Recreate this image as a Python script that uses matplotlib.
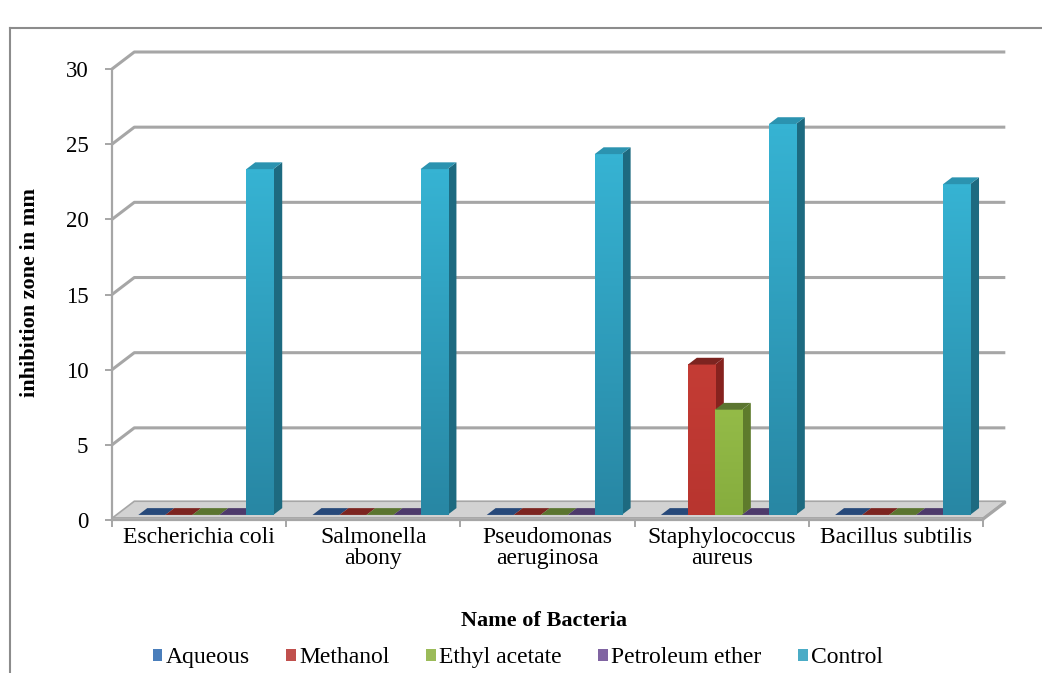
import numpy as np
import matplotlib
matplotlib.use("Agg")
import matplotlib.pyplot as plt
from matplotlib.patches import Polygon, Patch
from matplotlib.lines import Line2D
from matplotlib.colors import LinearSegmentedColormap

plt.rcParams['font.family'] = ['Liberation Serif', 'DejaVu Serif']

# data
categories = ["Escherichia coli", "Salmonella\nabony", "Pseudomonas\naeruginosa",
              "Staphylococcus\naureus", "Bacillus subtilis"]
series_names = ["Aqueous", "Methanol", "Ethyl acetate", "Petroleum ether", "Control"]
aqueous = [0, 0, 0, 0, 0]
methanol = [0, 0, 0, 10, 0]
ethyl_acetate = [0, 0, 0, 7, 0]
petroleum_ether = [0, 0, 0, 0, 0]
control = [23, 23, 24, 26, 22]
series = [aqueous, methanol, ethyl_acetate, petroleum_ether, control]

# colours: front top, front bottom, side, top, legend
colors = [
    ("#4f81bd", "#3d6aa0", "#1d3c63", "#27497a", "#4a7ebb"),
    ("#c43c35", "#b8352f", "#86221e", "#7c2420", "#c0504d"),
    ("#94bb48", "#86ad3e", "#5e7b2c", "#5b7530", "#9bbb59"),
    ("#8064a2", "#6d5590", "#3f2f58", "#4d3a6b", "#8064a2"),
    ("#36b3d3", "#2887a4", "#1d6a80", "#2b93b0", "#4bacc6"),
]

# 3d look
DX, DY = 0.128, 1.13      # full depth in data units
F0, F1 = 0.3, 0.7         # bar front / back depth fraction
W = 0.155
START = (1 - 5 * W) / 2
FLOOR = 0.12


def face(ax, pts, color, z, ec="none", lw=0):
    ax.add_patch(Polygon(pts, closed=True, fc=color, ec=ec, lw=lw, zorder=z, clip_on=False))


def bar3d(ax, x, v, c, z):
    x0 = x + F0 * DX
    y0 = F0 * DY
    a = (F1 - F0) * DX
    b = (F1 - F0) * DY
    if v > 0:
        face(ax, [(x0 + W, y0), (x0 + W + a, y0 + b), (x0 + W + a, y0 + v + b), (x0 + W, y0 + v)], c[2], z)
        cmap = LinearSegmentedColormap.from_list("g", [c[1], c[0]])
        grad = np.linspace(1, 0, 64).reshape(-1, 1)
        ax.imshow(grad, extent=[x0, x0 + W, y0, y0 + v], cmap=cmap, aspect="auto",
                  zorder=z + 0.1, interpolation="bilinear")
    face(ax, [(x0, y0 + v), (x0 + W, y0 + v), (x0 + W + a, y0 + v + b), (x0 + a, y0 + v + b)], c[3], z + 0.2)


fig = plt.figure(figsize=(10.42, 6.73), dpi=100)
ax = fig.add_axes([0.1075, 0.2273, 0.8359, 0.6702])

n = len(categories)

# back wall gridlines
for v in range(5, 31, 5):
    ax.plot([0, DX, n + DX], [v, v + DY, v + DY], color="#a6a6a6", lw=2.2,
            clip_on=False, zorder=1, solid_capstyle="butt")

# floor slab
face(ax, [(0, FLOOR), (n, FLOOR), (n + DX, FLOOR + DY), (DX, FLOOR + DY)], "#d2d2d2", 2, ec="#a6a6a6", lw=1.2)
face(ax, [(0, 0), (n, 0), (n, FLOOR), (0, FLOOR)], "#ececec", 2, ec="#a6a6a6", lw=1.2)
face(ax, [(n, 0), (n + DX, DY), (n + DX, DY + FLOOR), (n, FLOOR)], "#c4c4c4", 2, ec="#a6a6a6", lw=1.2)

# bars
z = 3
for i in range(n):
    for j, vals in enumerate(series):
        bar3d(ax, i + START + j * W, vals[i], colors[j], z)
        z += 1

ax.set_xlim(0, n)
ax.set_ylim(0, 30)

for s in ["top", "right"]:
    ax.spines[s].set_visible(False)
ax.spines["left"].set_color("#a6a6a6")
ax.spines["left"].set_linewidth(1.6)
ax.spines["bottom"].set_color("#a6a6a6")
ax.spines["bottom"].set_linewidth(1.6)

ax.set_yticks(range(0, 31, 5))
ax.tick_params(axis="y", length=5, width=1.4, color="#a6a6a6", pad=12, labelsize=16.5)
ax.set_xticks(range(n + 1))
ax.set_xticklabels([])
ax.set_xticks(np.arange(n) + 0.5, minor=True)
ax.set_xticklabels(categories, minor=True, fontsize=17, linespacing=1.0)
ax.tick_params(axis="x", which="major", length=5, width=1.4, color="#a6a6a6")
ax.tick_params(axis="x", which="minor", length=0, pad=5)

fig.text(0.029, 0.566, "inhibition zone in mm", rotation=90, fontsize=16,
         fontweight="bold", ha="center", va="center")
fig.text(0.522, 0.077, "Name of Bacteria", fontsize=16, fontweight="bold",
         ha="center", va="center")

handles = [Patch(facecolor=c[4], edgecolor="none") for c in colors]
fig.legend(handles, series_names, loc="center", bbox_to_anchor=(0.497, 0.023),
           ncol=5, frameon=False, prop={"family": "Liberation Serif", "size": 17},
           handlelength=0.4, handleheight=0.4, handletextpad=0.15, columnspacing=1.55)

# chart border
fig.add_artist(Line2D([10 / 1042, 10 / 1042], [0, 1 - 28 / 673], transform=fig.transFigure,
                      color="#8c8c8c", lw=1.5))
fig.add_artist(Line2D([10 / 1042, 1], [1 - 28 / 673, 1 - 28 / 673], transform=fig.transFigure,
                      color="#8c8c8c", lw=1.5))

fig.savefig("out.png", dpi=100)
